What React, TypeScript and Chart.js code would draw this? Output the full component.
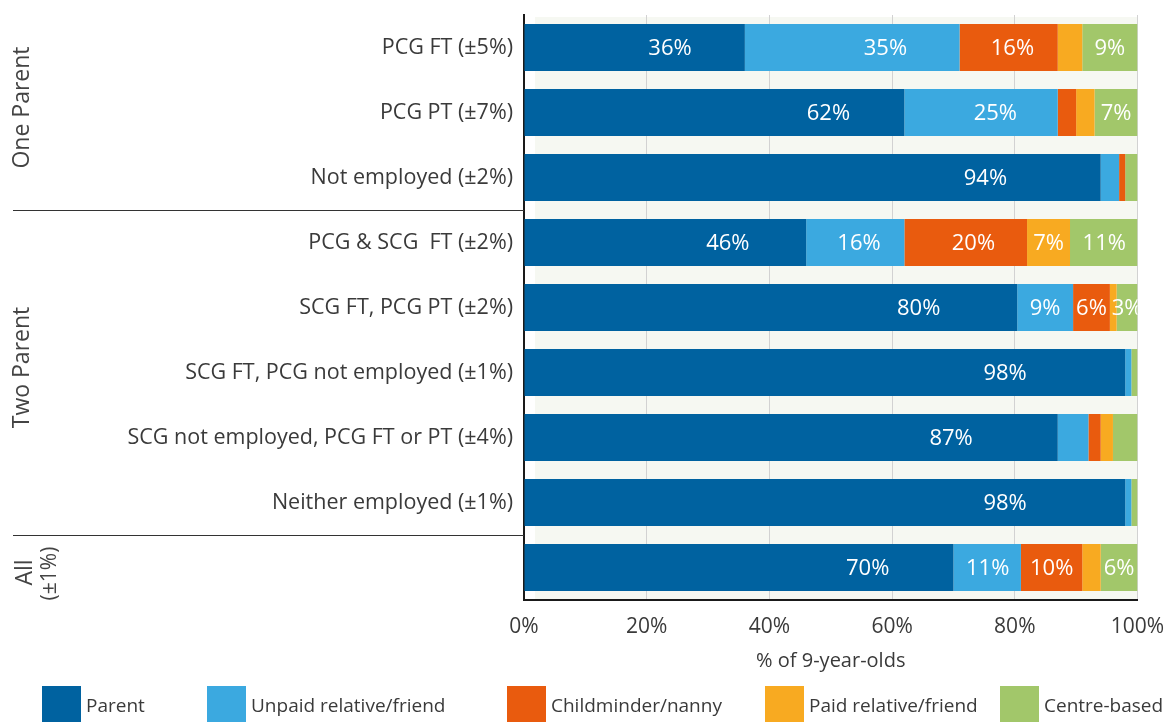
import React, { useEffect, useRef } from "react";
import { Chart, registerables } from "chart.js";

Chart.register(...registerables);

// ---------- data ----------
const categories = [
  "PCG FT (±5%)",
  "PCG PT (±7%)",
  "Not employed (±2%)",
  "PCG & SCG  FT (±2%)",
  "SCG FT, PCG PT (±2%)",
  "SCG FT, PCG not employed (±1%)",
  "SCG not employed, PCG FT or PT (±4%)",
  "Neither employed (±1%)",
  "",
];
const groupNames = ["One Parent", "Two Parent", "All"];
const groupSubtitles = ["", "", "(±1%)"];
const groupStarts = [0, 3, 8];
const groupEnds = [2, 7, 8];

const seriesNames = [
  "Parent",
  "Unpaid relative/friend",
  "Childminder/nanny",
  "Paid relative/friend",
  "Centre-based",
];
const parent = [36, 62, 94, 46, 80.4, 98, 87, 98, 70];
const unpaidRelative = [35, 25, 3, 16, 9.1, 1, 5, 1, 11];
const childminder = [16, 3, 1, 20, 6, 0, 2, 0, 10];
const paidRelative = [4, 3, 0, 7, 1.1, 0, 2, 0, 3];
const centreBased = [9, 7, 2, 11, 3.4, 1, 4, 1, 6];
const xTicks = [0, 20, 40, 60, 80, 100];
const xTitle = "% of 9-year-olds";

// labels shown for segments >= labelMin, plus these [row, series] exceptions
const labelMin = 6;
const forcedLabels = [[4, 4]];

// ---------- style ----------
const colors = ["#0062a0", "#3ba9e0", "#e95b0e", "#f8aa21", "#a2c76a"];
const FONT = "'Open Sans', 'Noto Sans', sans-serif";
const TEXT = "#3a3a3a";
const legendX = [42, 207, 507, 765, 1000];

export default function App() {
  const ref = useRef<HTMLCanvasElement | null>(null);

  useEffect(() => {
    document.body.style.margin = "0";
    const canvas = ref.current;
    if (!canvas) return;
    const seriesData = [parent, unpaidRelative, childminder, paidRelative, centreBased];

    const bgPlugin = {
      id: "plotBg",
      beforeDraw(chart: any) {
        const { ctx, chartArea: a } = chart;
        ctx.save();
        ctx.fillStyle = "#ffffff";
        ctx.fillRect(0, 0, chart.width, chart.height);
        ctx.fillStyle = "#f6f8f2";
        ctx.fillRect(a.left + 11, a.top + 2, a.right - a.left - 11, a.bottom - a.top - 2);
        ctx.restore();
      },
    };

    const labelPlugin = {
      id: "segLabels",
      afterDatasetsDraw(chart: any) {
        const { ctx, chartArea: a } = chart;
        ctx.save();
        ctx.beginPath();
        ctx.rect(a.left, a.top, a.right - a.left, a.bottom - a.top);
        ctx.clip();
        ctx.font = `22px ${FONT}`;
        ctx.fillStyle = "#ffffff";
        ctx.textAlign = "center";
        ctx.textBaseline = "middle";
        chart.data.datasets.forEach((ds: any, d: number) => {
          const meta = chart.getDatasetMeta(d);
          meta.data.forEach((el: any, i: number) => {
            const v = ds.data[i];
            const forced = forcedLabels.some((f) => f[0] === i && f[1] === d);
            if (!(v >= labelMin || forced)) return;
            const start = Math.min(el.base, el.x);
            const w = Math.abs(el.x - el.base);
            const f = 0.5 + 0.3 * Math.max(0, Math.min(1, (w - 60) / 300));
            ctx.fillText(Math.round(v) + "%", start + w * f, el.y + 1);
          });
        });
        ctx.restore();
      },
    };

    const sidePlugin = {
      id: "sideGroups",
      afterDraw(chart: any) {
        const { ctx, chartArea: a } = chart;
        const ys = chart.scales.y;
        ctx.save();
        // separators
        ctx.strokeStyle = "#333333";
        ctx.lineWidth = 1;
        for (let g = 0; g < groupNames.length - 1; g++) {
          const y =
            (ys.getPixelForValue(groupEnds[g]) + ys.getPixelForValue(groupEnds[g] + 1)) / 2;
          const yy = Math.round(y) + 0.5;
          ctx.beginPath();
          ctx.moveTo(13, yy);
          ctx.lineTo(a.left, yy);
          ctx.stroke();
        }
        // group labels
        ctx.fillStyle = "#444444";
        ctx.textAlign = "center";
        ctx.textBaseline = "middle";
        groupNames.forEach((name, g) => {
          const cy =
            (ys.getPixelForValue(groupStarts[g]) + ys.getPixelForValue(groupEnds[g])) / 2;
          const sub = groupSubtitles[g];
          const x = sub ? 25 : 22;
          ctx.save();
          ctx.translate(x, cy - (sub ? -5 : 5));
          ctx.rotate(-Math.PI / 2);
          ctx.font = `23px ${FONT}`;
          ctx.fillText(name, 0, 0);
          ctx.restore();
          if (sub) {
            ctx.save();
            ctx.translate(50, cy + 6);
            ctx.rotate(-Math.PI / 2);
            ctx.font = `21px ${FONT}`;
            ctx.fillText(sub, 0, 0);
            ctx.restore();
          }
        });
        // legend
        ctx.textAlign = "left";
        ctx.textBaseline = "middle";
        ctx.font = `19px ${FONT}`;
        seriesNames.forEach((name, i) => {
          const x = legendX[i];
          ctx.fillStyle = colors[i];
          ctx.fillRect(x, 686, 39, 36);
          ctx.fillStyle = TEXT;
          ctx.fillText(name, x + 44, 707);
        });
        ctx.restore();
      },
    };

    const chart = new Chart(canvas, {
      type: "bar",
      data: {
        labels: categories,
        datasets: seriesNames.map((name, i) => ({
          label: name,
          data: seriesData[i],
          backgroundColor: colors[i],
          borderWidth: 0,
          barPercentage: 0.72,
          categoryPercentage: 1,
        })),
      },
      options: {
        indexAxis: "y",
        responsive: false,
        animation: false,
        layout: { padding: { left: 0, right: 28.5, top: 15, bottom: 37 } },
        plugins: {
          legend: { display: false },
          tooltip: { enabled: false },
        },
        scales: {
          x: {
            stacked: true,
            min: 0,
            max: 100,
            afterBuildTicks: (scale: any) => {
              scale.ticks = xTicks.map((v) => ({ value: v }));
            },
            afterFit: (scale: any) => {
              scale.height = 85;
              scale.paddingLeft = 0;
              scale.paddingRight = 0;
            },
            ticks: {
              callback: (v: any) => v + "%",
              font: { family: FONT, size: 21 },
              color: TEXT,
              padding: 14,
              maxRotation: 0,
            },
            grid: { color: "#d2d2d2", lineWidth: 1, drawTicks: false },
            border: { display: true, color: "#1a1a1a", width: 2 },
            title: {
              display: true,
              text: xTitle,
              font: { family: FONT, size: 20 },
              color: TEXT,
              padding: { top: 0, bottom: 12 },
            },
          },
          y: {
            stacked: true,
            afterFit: (scale: any) => {
              scale.width = 524;
              scale.paddingTop = 0;
              scale.paddingBottom = 0;
            },
            ticks: {
              font: { family: FONT, size: 21.5 },
              color: TEXT,
              padding: 11,
            },
            grid: { display: false, drawTicks: false },
            border: { display: true, color: "#1a1a1a", width: 2 },
          },
        },
      },
      plugins: [bgPlugin, labelPlugin, sidePlugin],
    } as any);

    const fonts: any = (document as any).fonts;
    if (fonts && fonts.load) {
      Promise.all([fonts.load(`20px 'Open Sans'`)]).then(() => chart.update()).catch(() => {});
    }

    return () => chart.destroy();
  }, []);

  return (
    <canvas
      ref={ref}
      width={1166}
      height={722}
      style={{ display: "block", width: 1166, height: 722 }}
    />
  );
}
